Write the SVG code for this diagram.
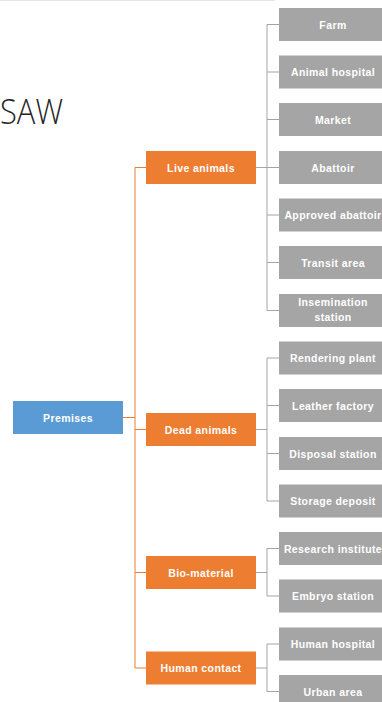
<svg xmlns="http://www.w3.org/2000/svg" width="382" height="702" viewBox="0 0 382 702">
  <style>
    .root { fill: #5b9bd5; }
    .cat { fill: #ed7d31; }
    .leaf { fill: #a5a5a5; }
    .lbl { font-family: "Liberation Sans", Arial, sans-serif; font-size: 10.5px; font-weight: bold; fill: #ffffff; text-anchor: middle; letter-spacing: 0.4px; }
    .trunk { stroke: #ed7d31; stroke-width: 1; fill: none; }
    .twig { stroke: #a5a5a5; stroke-width: 1; fill: none; }
    .title { font-family: "Open Sans", "Liberation Sans", sans-serif; font-weight: 300; font-size: 35px; fill: #262626; }
  </style>

  <rect width="382" height="702" fill="#ffffff"/>
  <line x1="0" y1="0.5" x2="275" y2="0.5" stroke="#e6e6e6" stroke-width="1"/>

  <text class="title" x="0" y="124" textLength="63" lengthAdjust="spacingAndGlyphs">SAW</text>

  <!-- connectors -->
  <g id="connectors">
    <!-- root to categories -->
    <path class="trunk" d="M123 417.5H135 M135 167.5V668 M135 167.5H146 M135 429.5H146 M135 572.5H146 M135 668H146"/>
    <!-- live animals -->
    <path class="twig" d="M256 167.5H267 M267 24.5V310.5 M267 24.5H279 M267 72H279 M267 119.5H279 M267 167.5H279 M267 215H279 M267 262.5H279 M267 310.5H279"/>
    <!-- dead animals -->
    <path class="twig" d="M256 429.5H267 M267 358V501 M267 358H279 M267 405.5H279 M267 453.5H279 M267 501H279"/>
    <!-- bio-material -->
    <path class="twig" d="M256 572.5H267 M267 548.5V596 M267 548.5H279 M267 596H279"/>
    <!-- human contact -->
    <path class="twig" d="M256 668H267 M267 644V691.5 M267 644H279 M267 691.5H279"/>
  </g>

  <!-- root -->
  <g id="premises">
    <rect class="root" x="13" y="401" width="110" height="33"/>
    <text class="lbl" x="68" y="421.5">Premises</text>
  </g>

  <!-- categories -->
  <g id="live-animals">
    <rect class="cat" x="146" y="151" width="110" height="33"/>
    <text class="lbl" x="201" y="171.5">Live animals</text>
  </g>
  <g id="dead-animals">
    <rect class="cat" x="146" y="413" width="110" height="33"/>
    <text class="lbl" x="201" y="433.5">Dead animals</text>
  </g>
  <g id="bio-material">
    <rect class="cat" x="146" y="556" width="110" height="33"/>
    <text class="lbl" x="201" y="576.5">Bio-material</text>
  </g>
  <g id="human-contact">
    <rect class="cat" x="146" y="651.5" width="110" height="33"/>
    <text class="lbl" x="201" y="672">Human contact</text>
  </g>

  <!-- premises types -->
  <g id="farm">
    <rect class="leaf" x="279" y="8" width="108" height="33"/>
    <text class="lbl" x="333" y="28.5">Farm</text>
  </g>
  <g id="animal-hospital">
    <rect class="leaf" x="279" y="55.5" width="108" height="33"/>
    <text class="lbl" x="333" y="76">Animal hospital</text>
  </g>
  <g id="market">
    <rect class="leaf" x="279" y="103" width="108" height="33"/>
    <text class="lbl" x="333" y="123.5">Market</text>
  </g>
  <g id="abattoir">
    <rect class="leaf" x="279" y="151" width="108" height="33"/>
    <text class="lbl" x="333" y="171.5">Abattoir</text>
  </g>
  <g id="approved-abattoir">
    <rect class="leaf" x="279" y="198.5" width="108" height="33"/>
    <text class="lbl" x="333" y="219">Approved abattoir</text>
  </g>
  <g id="transit-area">
    <rect class="leaf" x="279" y="246" width="108" height="33"/>
    <text class="lbl" x="333" y="266.5">Transit area</text>
  </g>
  <g id="insemination-station">
    <rect class="leaf" x="279" y="294" width="108" height="33"/>
    <text class="lbl" x="333" y="305.5">Insemination</text>
    <text class="lbl" x="333" y="320.5">station</text>
  </g>
  <g id="rendering-plant">
    <rect class="leaf" x="279" y="341.5" width="108" height="33"/>
    <text class="lbl" x="333" y="362">Rendering plant</text>
  </g>
  <g id="leather-factory">
    <rect class="leaf" x="279" y="389" width="108" height="33"/>
    <text class="lbl" x="333" y="409.5">Leather factory</text>
  </g>
  <g id="disposal-station">
    <rect class="leaf" x="279" y="437" width="108" height="33"/>
    <text class="lbl" x="333" y="457.5">Disposal station</text>
  </g>
  <g id="storage-deposit">
    <rect class="leaf" x="279" y="484.5" width="108" height="33"/>
    <text class="lbl" x="333" y="505">Storage deposit</text>
  </g>
  <g id="research-institute">
    <rect class="leaf" x="279" y="532" width="108" height="33"/>
    <text class="lbl" x="333" y="552.5">Research institute</text>
  </g>
  <g id="embryo-station">
    <rect class="leaf" x="279" y="579.5" width="108" height="33"/>
    <text class="lbl" x="333" y="600">Embryo station</text>
  </g>
  <g id="human-hospital">
    <rect class="leaf" x="279" y="627.5" width="108" height="33"/>
    <text class="lbl" x="333" y="648">Human hospital</text>
  </g>
  <g id="urban-area">
    <rect class="leaf" x="279" y="675" width="108" height="33"/>
    <text class="lbl" x="333" y="695.5">Urban area</text>
  </g>
</svg>
